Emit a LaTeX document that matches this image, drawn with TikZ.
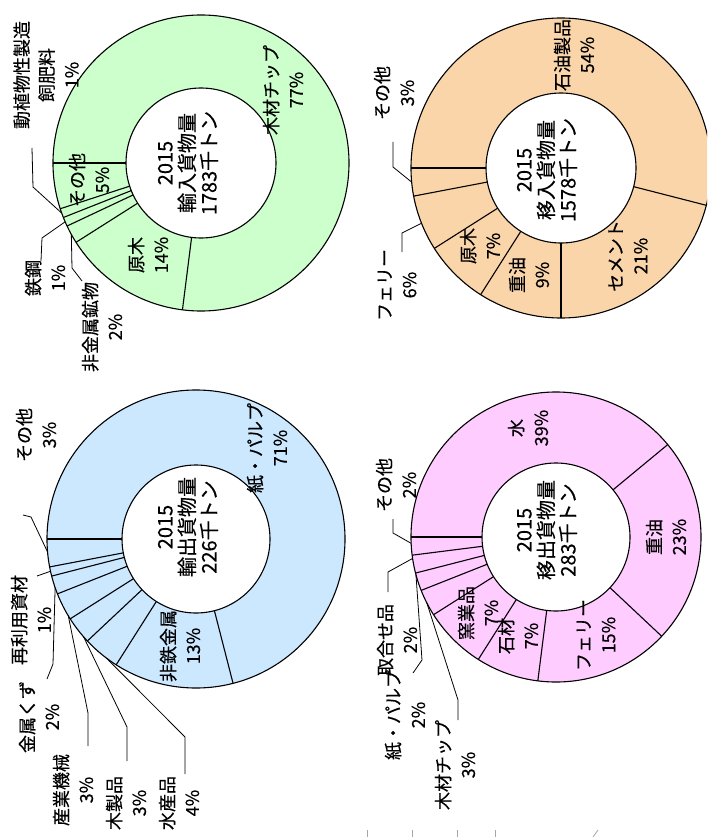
\documentclass[tikz,border=0pt]{standalone}
\usepackage{fontspec}
\setmainfont{Noto Sans CJK JP}[FakeBold=0.4]
\usepackage{tikz}
\usetikzlibrary{calc}
\definecolor{impGreen}{RGB}{204,255,204}
\definecolor{expBlue}{RGB}{204,232,255}
\definecolor{inOrange}{RGB}{250,213,170}
\definecolor{outPink}{RGB}{255,204,255}

\begin{document}
\begin{tikzpicture}[x=1pt, y=-1pt,
  ring/.style={draw=black, line width=1.1pt},
  lab/.style={rotate=90, align=center, inner sep=0pt, font=\fontsize{18}{25}\selectfont},
  ctr/.style={rotate=90, align=center, inner sep=0pt, font=\fontsize{20}{22}\selectfont},
  lead/.style={draw=black, line width=0.8pt},
  tick/.style={draw=black!35, line width=0.8pt}
]
  \useasboundingbox (0,0) rectangle (707,837);
  \clip (0,0) rectangle (707,837);

  % centres of the four rings
  \coordinate (imp) at (201,163);
  \coordinate (exp) at (196,539);
  \coordinate (mvin) at (561,168);
  \coordinate (mvout) at (556,537);

  % import (green)
  \fill[impGreen, even odd rule] (imp) circle[radius=148] circle[radius=75];
  \draw[ring] (imp) circle[radius=148] circle[radius=75];
  \foreach \a in {97.2,147.6,154.8,158.4,162,180}
    \draw[ring] ($(imp)+(\a:75)$) -- ($(imp)+(\a:148)$);

  % export (blue)
  \fill[expBlue, even odd rule] (exp) circle[radius=149] circle[radius=74];
  \draw[ring] (exp) circle[radius=149] circle[radius=74];
  \foreach \a in {75.6,122.4,136.8,147.6,158.4,165.6,169.2,180}
    \draw[ring] ($(exp)+(\a:74)$) -- ($(exp)+(\a:149)$);

  % moved in (orange)
  \fill[inOrange, even odd rule] (mvin) circle[radius=150] circle[radius=75];
  \draw[ring] (mvin) circle[radius=150] circle[radius=75];
  \foreach \a in {14.4,90,122.4,147.6,169.2,180}
    \draw[ring] ($(mvin)+(\a:75)$) -- ($(mvin)+(\a:150)$);

  % moved out (pink)
  \fill[outPink, even odd rule] (mvout) circle[radius=145] circle[radius=74];
  \draw[ring] (mvout) circle[radius=145] circle[radius=74];
  \foreach \a in {320.4,43.2,97.2,122.4,147.6,158.4,165.6,172.8,180}
    \draw[ring] ($(mvout)+(\a:74)$) -- ($(mvout)+(\a:145)$);

  % centre texts
  \node[ctr] (impC) at (188,163) {2015\\輸入貨物量\\1783千トン};
  \node[ctr] (expC) at (188,527) {2015\\輸出貨物量\\226千トン};
  \node[ctr] (mvinC) at (547,170) {2015\\移入貨物量\\1578千トン};
  \node[ctr] (mvoutC) at (547,530) {2015\\移出貨物量\\283千トン};

  % import labels
  \node[lab] (impWood) at (283,90) {木材チップ\\77\%};
  \node[lab] (impLog) at (148,255) {原木\\14\%};
  \node[lab] (impEtc) at (89,180) {その他\\5\%};
  \node[lab] (impMin) at (102,327) {非金属鉱物\\2\%};
  \node[lab] (impSteel) at (45,278) {鉄鋼\\1\%};
  \node[lab] (impFeed) at (46,75) {動植物性製造\\飼肥料\\1\%};

  % export labels
  \node[lab] (expPaper) at (267,448) {紙・パルプ\\71\%};
  \node[lab] (expMetal) at (180,646) {非鉄金属\\13\%};
  \node[lab] (expFish) at (179,803) {水産品\\4\%};
  \node[lab] (expWood) at (126,803) {木製品\\3\%};
  \node[lab] (expMach) at (73,790) {産業機械\\3\%};
  \node[lab] (expScrap) at (39,717) {金属くず\\2\%};
  \node[lab] (expRecy) at (31,620) {再利用資材\\1\%};
  \node[lab] (expEtc) at (36,435) {その他\\3\%};

  % moved-in labels
  \node[lab] (mvinOil) at (574,55) {石油製品\\54\%};
  \node[lab] (mvinCem) at (628,256) {セメント\\21\%};
  \node[lab] (mvinHeavy) at (529,275) {重油\\9\%};
  \node[lab] (mvinLog) at (480,246) {原木\\7\%};
  \node[lab] (mvinFerry) at (397,285) {フェリー\\6\%};
  \node[lab] (mvinEtc) at (394,93) {その他\\3\%};

  % moved-out labels
  \node[lab] (mvoutWater) at (528,428) {水\\39\%};
  \node[lab] (mvoutHeavy) at (666,537) {重油\\23\%};
  \node[lab] (mvoutFerry) at (596,635) {フェリー\\15\%};
  \node[lab] (mvoutStone) at (518,636) {石材\\7\%};
  \node[lab] (mvoutCeram) at (478,613) {窯業品\\7\%};
  \node[lab] (mvoutChip) at (455,765) {木材チップ\\3\%};
  \node[lab] (mvoutPaper) at (405,715) {紙・パルプ\\2\%};
  \node[lab] (mvoutMix) at (397,640) {取合せ品\\2\%};
  \node[lab] (mvoutEtc) at (396,485) {その他\\2\%};

  % leader lines: free end near the label, other end on the ring
  \coordinate (impFeedEnd) at (32,148);
  \coordinate (impSteelEnd) at (41,261);
  \coordinate (impMinEnd) at (82,281);
  \draw[lead] (impFeedEnd) -- ++(1,39) -- ($(imp)+(160.2:148)$);
  \draw[lead] (impSteelEnd) -- ++(1,-23) -- ($(imp)+(156.6:148)$);
  \draw[lead] (impMinEnd) -- ++(-10,-13) -- ($(imp)+(151.2:148)$);

  \coordinate (expEtcEnd) at (23,515);
  \coordinate (expRecyEnd) at (37,576);
  \coordinate (expScrapEnd) at (47,679);
  \coordinate (expMachEnd) at (88,746);
  \coordinate (expWoodEnd) at (127,761);
  \coordinate (expFishEnd) at (185,774);
  \draw[lead] (expEtcEnd) -- ++(8,2) -- ($(exp)+(175:149)$);
  \draw[lead] (expRecyEnd) -- ($(exp)+(167.5:149)$);
  \draw[lead] (expScrapEnd) -- ++(6,-15) -- ($(exp)+(161:149)$);
  \draw[lead] (expMachEnd) -- ++(0,-33) -- ($(exp)+(149:149)$);
  \draw[lead] (expWoodEnd) -- ++(0,-34) -- ($(exp)+(139:149)$);
  \draw[lead] (expFishEnd) -- ++(0,-37) -- ($(exp)+(127:149)$);

  \coordinate (mvinEtcEnd) at (393,142);
  \coordinate (mvinFerryEnd) at (402,252);
  \draw[lead] (mvinEtcEnd) -- ++(0,25) -- ($(mvin)+(174.6:150)$);
  \draw[lead] (mvinFerryEnd) -- ++(0,-19) -- ($(mvin)+(158.4:150)$);

  \coordinate (mvoutEtcEnd) at (393,519);
  \coordinate (mvoutMixEnd) at (388,592);
  \coordinate (mvoutPaperEnd) at (413,673);
  \coordinate (mvoutChipEnd) at (458,720);
  \draw[lead] (mvoutEtcEnd) -- ++(0,14) -- ($(mvout)+(177.5:145)$);
  \draw[lead] (mvoutMixEnd) -- ++(0,-20) -- ($(mvout)+(171.5:145)$);
  \draw[lead] (mvoutPaperEnd) -- ++(9,-13) -- ($(mvout)+(165:145)$);
  \draw[lead] (mvoutChipEnd) -- ++(0,-20) -- ($(mvout)+(153:145)$);

  % cut-off marks at the bottom edge
  \foreach \x in {367,412,457,495}
    \draw[tick] (\x,830) -- (\x,837);
  \draw[tick] (593,837) -- (598,830);
\end{tikzpicture}
\end{document}
